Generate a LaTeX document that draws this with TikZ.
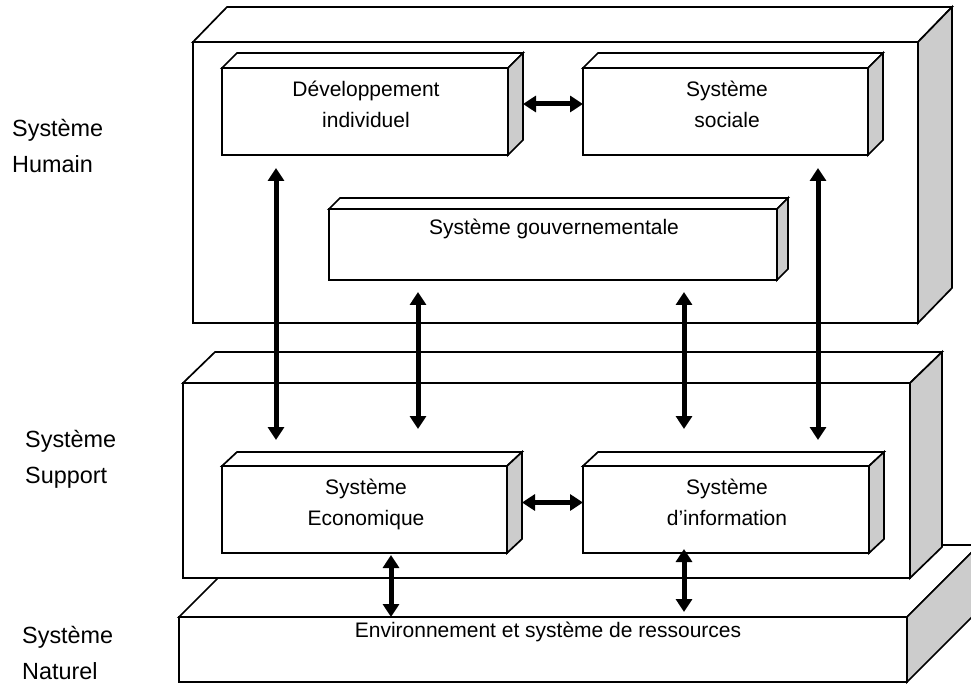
\documentclass[tikz,border=0pt]{standalone}
\usepackage{fontspec}
\setmainfont{Liberation Sans}
\usetikzlibrary{arrows.meta,calc}
\definecolor{sidegrey}{RGB}{204,204,204}
% #1 name, #2 #3 top-left of front face, #4 width, #5 height, #6 depth x, #7 depth y
\newcommand{\solidbox}[7]{%
  \node[frontface, anchor=north west, minimum width=#4pt, minimum height=#5pt] (#1) at (#2,#3) {};
  \draw[face, fill=white] (#1.north west) -- ++(#6,-#7) -- ++(#4,0) -- (#1.north east) -- cycle;
  \draw[face, fill=sidegrey] (#1.north east) -- ++(#6,-#7) -- ++(0,#5) -- (#1.south east) -- cycle;
}
\begin{document}
\begin{tikzpicture}[x=1pt,y=-1pt,
  face/.style={draw=black, line width=1.7pt, line join=miter},
  frontface/.style={draw=black, fill=white, line width=1.7pt, inner sep=0pt, outer sep=0pt},
  txt/.style={inner sep=0pt, font=\fontsize{21}{25}\selectfont},
  sidetxt/.style={inner sep=0pt, anchor=base west, font=\fontsize{23.4}{28}\selectfont},
  biarr/.style={line width=5pt, {Triangle[length=13pt,width=16pt]}-{Triangle[length=13pt,width=16pt]}}
]
\useasboundingbox (0,0) rectangle (971,684);
\clip (0,0) rectangle (971,684);

% layers
\solidbox{env}{179}{617}{728}{65}{72}{72}
\solidbox{sup}{183}{383}{727}{195}{32}{31}
\solidbox{hum}{193}{42}{725}{281}{34}{35}

% inner boxes
\solidbox{dev}{222}{68}{286}{87}{15}{15}
\solidbox{soc}{583}{68}{285}{87}{15}{15}
\solidbox{gov}{329}{209}{448}{71}{11}{11}
\solidbox{eco}{222}{466}{285}{87}{15}{14}
\solidbox{info}{583}{466}{286}{87}{15}{14}

% texts in boxes
\node[txt, anchor=base] (devA) at (366,97) {Développement};
\node[txt, anchor=base] (devB) at (366,128) {individuel};
\node[txt, anchor=base] (socA) at (727,97) {Système};
\node[txt, anchor=base] (socB) at (727,128) {sociale};
\node[txt, anchor=base] (govA) at (554,235) {Système gouvernementale};
\node[txt, anchor=base] (ecoA) at (366,494) {Système};
\node[txt, anchor=base] (ecoB) at (366,525) {Economique};
\node[txt, anchor=base] (infoA) at (727,494) {Système};
\node[txt, anchor=base] (infoB) at (727,525) {d’information};
\node[txt, anchor=base] (envA) at (548,637) {Environnement et système de ressources};

% side labels
\node[sidetxt] (lh1) at (12,137) {Système};
\node[sidetxt] (lh2) at (12,173) {Humain};
\node[sidetxt] (ls1) at (25,447) {Système};
\node[sidetxt] (ls2) at (25,483) {Support};
\node[sidetxt] (ln1) at (22,643) {Système};
\node[sidetxt] (ln2) at (22,679) {Naturel};

% connector end points
\coordinate (devR) at ($(dev.east)+(15,-7.5)$);
\coordinate (ecoR) at ($(eco.east)+(15,-7)$);

% arrows
\draw[biarr] (devR) -- (devR -| soc.west);
\draw[biarr] (ecoR) -- (ecoR -| info.west);
\draw[biarr] ($(dev.south)+(-89,13)$) -- ($(eco.north)+(-88.5,-26)$);
\draw[biarr] ($(gov.south)+(-135,12)$) -- ($(eco.north)+(53.5,-37)$);
\draw[biarr] ($(gov.south)+(131,12)$) -- ($(info.north)+(-42,-37)$);
\draw[biarr] ($(soc.south)+(92.5,13)$) -- ($(info.north)+(92,-26)$);
\draw[biarr] ($(eco.south)+(26.5,2)$) -- ($(env.north)+(-152,0)$);
\draw[biarr] ($(info.south)+(-42,-4)$) -- ($(env.north)+(141,-5)$);
\end{tikzpicture}
\end{document}
